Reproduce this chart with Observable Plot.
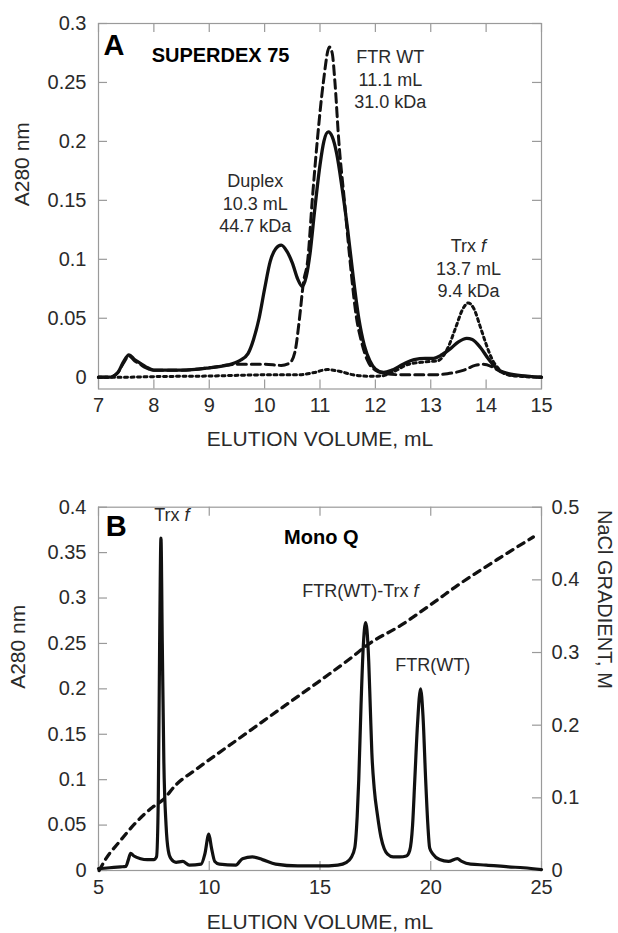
<!DOCTYPE html>
<html>
<head>
<meta charset="utf-8">
<script src="https://cdn.jsdelivr.net/npm/d3@7"></script>
<script src="https://cdn.jsdelivr.net/npm/@observablehq/plot@0.6"></script>
<style>
  html, body { margin: 0; padding: 0; background: #fff; }
  #chart svg { display: block; }
</style>
</head>
<body>
<div id="chart"></div>
<script>
// ---------- Panel A : Superdex 75 ----------
const aXTicks = [7, 8, 9, 10, 11, 12, 13, 14, 15];
const aYTicks = [0, 0.05, 0.1, 0.15, 0.2, 0.25, 0.3];

// Duplex (solid)
const aDuplexX = [7.0, 7.2, 7.35, 7.45, 7.55, 7.65, 7.75, 7.85, 8.0, 8.5, 9.0, 9.3, 9.55, 9.7, 9.8, 9.9, 10.0, 10.1, 10.2, 10.3, 10.4, 10.5, 10.6, 10.68, 10.75, 10.82, 10.9, 11.0, 11.07, 11.15, 11.22, 11.3, 11.4, 11.5, 11.6, 11.7, 11.8, 11.9, 12.0, 12.15, 12.3, 12.5, 12.7, 12.9, 13.05, 13.2, 13.35, 13.5, 13.65, 13.75, 13.9, 14.05, 14.2, 14.4, 14.7, 15.0];
const aDuplexY = [0, 0, 0.004, 0.013, 0.019, 0.015, 0.012, 0.009, 0.006, 0.006, 0.008, 0.010, 0.014, 0.02, 0.032, 0.05, 0.075, 0.098, 0.109, 0.112, 0.107, 0.097, 0.083, 0.077, 0.085, 0.105, 0.14, 0.18, 0.2, 0.208, 0.204, 0.19, 0.16, 0.125, 0.085, 0.05, 0.027, 0.014, 0.007, 0.004, 0.006, 0.011, 0.015, 0.016, 0.016, 0.019, 0.024, 0.03, 0.033, 0.032, 0.025, 0.015, 0.007, 0.003, 0.001, 0];

// FTR WT (dashed)
const aFtrX = [7.0, 7.2, 7.35, 7.45, 7.55, 7.65, 7.75, 7.85, 8.0, 8.5, 9.0, 9.5, 10.0, 10.3, 10.45, 10.55, 10.63, 10.7, 10.78, 10.86, 10.95, 11.06, 11.17, 11.22, 11.27, 11.34, 11.44, 11.54, 11.66, 11.75, 11.85, 12.0, 12.2, 12.5, 13.0, 13.3, 13.6, 13.8, 13.95, 14.1, 14.25, 14.4, 14.7, 15.0];
const aFtrY = [0, 0, 0.004, 0.012, 0.018, 0.014, 0.011, 0.008, 0.006, 0.006, 0.008, 0.011, 0.011, 0.010, 0.012, 0.022, 0.05, 0.08, 0.1, 0.15, 0.2, 0.25, 0.28, 0.275, 0.25, 0.2, 0.15, 0.1, 0.05, 0.03, 0.015, 0.006, 0.003, 0.002, 0.002, 0.003, 0.006, 0.01, 0.011, 0.009, 0.005, 0.002, 0.001, 0];

// Trx f (dotted)
const aTrxX = [7.0, 7.5, 8.0, 9.0, 10.0, 10.6, 10.9, 11.13, 11.35, 11.6, 11.9, 12.1, 12.3, 12.6, 12.9, 13.13, 13.31, 13.45, 13.58, 13.68, 13.78, 13.9, 14.0, 14.1, 14.25, 14.4, 14.7, 15.0];
const aTrxY = [0, 0, 0.0005, 0.001, 0.002, 0.002, 0.004, 0.0065, 0.005, 0.002, 0.0008, 0.001, 0.004, 0.011, 0.013, 0.014, 0.025, 0.042, 0.058, 0.063, 0.058, 0.042, 0.028, 0.016, 0.006, 0.002, 0.0005, 0];

const aNotes = ["FTR WT\n11.1 mL\n31.0 kDa", "Duplex\n10.3 mL\n44.7 kDa", "Trx f\n13.7 mL\n9.4 kDa"];
const aNoteX = [12.27, 9.83, 13.68];
const aNoteY = [0.2532, 0.148, 0.093];

// ---------- Panel B : Mono Q ----------
const bXTicks = [5, 10, 15, 20, 25];
const bYTicks = [0, 0.05, 0.1, 0.15, 0.2, 0.25, 0.3, 0.35, 0.4];
const bRightTicks = [0, 0.1, 0.2, 0.3, 0.4, 0.5];

const bA280X = [5.0, 5.5, 6.0, 6.23, 6.35, 6.45, 6.6, 6.9, 7.2, 7.5, 7.62, 7.7, 7.76, 7.82, 7.88, 7.95, 8.05, 8.15, 8.27, 8.5, 8.8, 9.1, 9.63, 9.8, 9.98, 10.1, 10.25, 10.46, 11.2, 11.5, 11.95, 12.4, 13.0, 14.0, 15.0, 15.8, 16.2, 16.4, 16.57, 16.68, 16.75, 16.85, 16.95, 17.06, 17.12, 17.2, 17.27, 17.34, 17.45, 17.6, 17.75, 17.9, 18.05, 18.3, 18.6, 18.9, 19.05, 19.18, 19.28, 19.4, 19.54, 19.65, 19.77, 19.87, 19.95, 20.1, 20.4, 20.8, 21.2, 21.4, 21.8, 22.5, 23.5, 24.2, 25.0];
const bA280Y = [0.002, 0.003, 0.004, 0.0045, 0.012, 0.019, 0.016, 0.013, 0.012, 0.012, 0.015, 0.08, 0.25, 0.366, 0.25, 0.12, 0.05, 0.022, 0.013, 0.009, 0.01, 0.006, 0.007, 0.018, 0.04, 0.025, 0.01, 0.007, 0.006, 0.013, 0.015, 0.012, 0.007, 0.005, 0.005, 0.006, 0.009, 0.014, 0.025, 0.06, 0.1, 0.18, 0.245, 0.273, 0.265, 0.23, 0.18, 0.13, 0.09, 0.06, 0.037, 0.024, 0.018, 0.015, 0.015, 0.016, 0.022, 0.05, 0.1, 0.16, 0.2, 0.17, 0.1, 0.05, 0.025, 0.018, 0.012, 0.01, 0.013, 0.01, 0.007, 0.006, 0.004, 0.003, 0.001];

// NaCl gradient (M, right axis)
const bNaClX = [5.03, 5.33, 5.93, 6.69, 7.44, 7.9, 8.5, 9.4, 10.3, 11.36, 12.5, 13.7, 14.9, 16.42, 17.17, 18.68, 20.19, 21.24, 23.0, 24.63];
const bNaClY = [0, 0.016, 0.039, 0.066, 0.087, 0.097, 0.118, 0.139, 0.159, 0.182, 0.207, 0.233, 0.259, 0.293, 0.311, 0.338, 0.37, 0.393, 0.428, 0.459];

const bNotes = ["Trx f", "FTR(WT)-Trx f", "FTR(WT)"];
const bNoteX = [8.31, 16.82, 20.09];
const bNoteY = [0.391, 0.307, 0.226];

// ---------- helpers ----------
const FONT = "'Liberation Sans', Arial, Helvetica, sans-serif";
const pts = (xs, ys) => xs.map((x, i) => ({x, y: ys[i]}));
const notes = (ts, xs, ys) => ts.map((t, i) => ({t, x: xs[i], y: ys[i]}));
const GREY = "#9a9a9a";
const INK = "#111";
const TXT = "#2a2a2a";
const TICK = 9;

function italicF(svg) {
  const list = Array.from(svg.querySelectorAll("text, tspan"));
  list.forEach(el => {
    if (el.children.length === 0 && /Trx f$/.test(el.textContent)) {
      const t = el.textContent.slice(0, -1);
      el.textContent = t;
      const ts = document.createElementNS("http://www.w3.org/2000/svg", "tspan");
      ts.setAttribute("font-style", "italic");
      ts.textContent = "f";
      el.appendChild(ts);
    }
  });
}

const W = 618;

// ---------- Plot A ----------
const aH = 460, aMT = 23, aMB = 71.5, aML = 98, aMR = 77;
const aPH = aH - aMT - aMB, aPW = W - aML - aMR;
const plotA = Plot.plot({
  width: W, height: aH,
  marginTop: aMT, marginBottom: aMB, marginLeft: aML, marginRight: aMR,
  style: {fontFamily: FONT, fontSize: "20px", color: TXT, background: "#fff", overflow: "visible"},
  x: {domain: [7, 15]},
  y: {domain: [-0.01, 0.3]},
  marks: [
    Plot.frame({stroke: GREY, strokeWidth: 1.2}),
    Plot.tickX(aXTicks, {x: d => d, insetTop: aPH - TICK, stroke: GREY, strokeWidth: 1.2}),
    Plot.tickX(aXTicks, {x: d => d, insetBottom: aPH - TICK, stroke: GREY, strokeWidth: 1.2}),
    Plot.tickY(aYTicks, {y: d => d, insetRight: aPW - TICK, stroke: GREY, strokeWidth: 1.2}),
    Plot.tickY(aYTicks, {y: d => d, insetLeft: aPW - TICK, stroke: GREY, strokeWidth: 1.2}),
    Plot.axisX({ticks: aXTicks, tickSize: 0, tickPadding: 9, label: null, tickFormat: d => String(d), fill: TXT}),
    Plot.axisY({ticks: aYTicks, tickSize: 0, tickPadding: 12, label: null, tickFormat: d => String(d), fill: TXT}),
    Plot.text(["ELUTION VOLUME, mL"], {text: d => d, frameAnchor: "bottom", dy: 50.5, fontSize: 21, lineAnchor: "middle", fill: TXT}),
    Plot.text(["A280 nm"], {text: d => d, frameAnchor: "left", dx: -76, rotate: -90, fontSize: 21, lineAnchor: "middle", fill: TXT}),
    Plot.line(pts(aTrxX, aTrxY), {x: "x", y: "y", curve: "monotone-x", stroke: INK, strokeWidth: 3, strokeDasharray: "3,3.5"}),
    Plot.line(pts(aFtrX, aFtrY), {x: "x", y: "y", curve: "monotone-x", stroke: INK, strokeWidth: 3, strokeDasharray: "9,5"}),
    Plot.line(pts(aDuplexX, aDuplexY), {x: "x", y: "y", curve: "monotone-x", stroke: INK, strokeWidth: 3.3}),
    Plot.text(notes(aNotes, aNoteX, aNoteY), {x: "x", y: "y", text: "t", fontSize: 18, lineHeight: 1.25, lineAnchor: "middle", textAnchor: "middle", fill: TXT}),
    Plot.text(["A"], {text: d => d, x: 7.09, y: 0.281, textAnchor: "start", lineAnchor: "middle", fontSize: 29, fontWeight: "bold", fill: "#000"}),
    Plot.text(["SUPERDEX 75"], {text: d => d, x: 7.96, y: 0.273, textAnchor: "start", lineAnchor: "middle", fontSize: 20, fontWeight: "bold", fill: "#000"})
  ]
});
italicF(plotA);

// ---------- Plot B ----------
const bH = 473, bMT = 46.7, bMB = 63, bML = 98, bMR = 77;
const bPH = bH - bMT - bMB, bPW = W - bML - bMR;
const K = 0.4 / 0.5; // right axis (0–0.5 M) mapped onto left axis (0–0.4)
const fmtR = d => { const v = d / K; return v === 0 ? "0" : v.toFixed(1); };
const plotB = Plot.plot({
  width: W, height: bH,
  marginTop: bMT, marginBottom: bMB, marginLeft: bML, marginRight: bMR,
  style: {fontFamily: FONT, fontSize: "20px", color: TXT, background: "#fff", overflow: "visible"},
  x: {domain: [5, 25]},
  y: {domain: [0, 0.4]},
  marks: [
    Plot.frame({stroke: GREY, strokeWidth: 1.2}),
    Plot.tickX(bXTicks, {x: d => d, insetTop: bPH - TICK, stroke: GREY, strokeWidth: 1.2}),
    Plot.tickX(bXTicks, {x: d => d, insetBottom: bPH - TICK, stroke: GREY, strokeWidth: 1.2}),
    Plot.tickY(bYTicks, {y: d => d, insetRight: bPW - TICK, stroke: GREY, strokeWidth: 1.2}),
    Plot.tickY(bRightTicks.map(v => v * K), {y: d => d, insetLeft: bPW - TICK, stroke: GREY, strokeWidth: 1.2}),
    Plot.axisX({ticks: bXTicks, tickSize: 0, tickPadding: 9, label: null, tickFormat: d => String(d), fill: TXT}),
    Plot.axisY({ticks: bYTicks, tickSize: 0, tickPadding: 12, label: null, tickFormat: d => String(d), fill: TXT}),
    Plot.axisY({anchor: "right", ticks: bRightTicks.map(v => v * K), tickSize: 0, tickPadding: 10, label: null, tickFormat: fmtR, fill: TXT}),
    Plot.text(["ELUTION VOLUME, mL"], {text: d => d, frameAnchor: "bottom", dy: 51.7, fontSize: 21, lineAnchor: "middle", fill: TXT}),
    Plot.text(["A280 nm"], {text: d => d, frameAnchor: "left", dx: -80, rotate: -90, fontSize: 21, lineAnchor: "middle", fill: TXT}),
    Plot.text(["NaCl GRADIENT, M"], {text: d => d, frameAnchor: "right", dx: 63, rotate: 90, fontSize: 20, lineAnchor: "middle", fill: TXT}),
    Plot.line(pts(bNaClX, bNaClY), {x: "x", y: d => d.y * K, curve: "monotone-x", stroke: INK, strokeWidth: 3.3, strokeDasharray: "7,6"}),
    Plot.line(pts(bA280X, bA280Y), {x: "x", y: "y", curve: "monotone-x", stroke: INK, strokeWidth: 3.2}),
    Plot.text(notes(bNotes, bNoteX, bNoteY), {x: "x", y: "y", text: "t", fontSize: 18, lineAnchor: "middle", textAnchor: "middle", fill: TXT}),
    Plot.text(["B"], {text: d => d, x: 5.33, y: 0.378, textAnchor: "start", lineAnchor: "middle", fontSize: 29, fontWeight: "bold", fill: "#000"}),
    Plot.text(["Mono Q"], {text: d => d, x: 15.06, y: 0.366, textAnchor: "middle", lineAnchor: "middle", fontSize: 20, fontWeight: "bold", fill: "#000"})
  ]
});
italicF(plotB);

const chart = document.getElementById("chart");
chart.appendChild(plotA);
chart.appendChild(plotB);
</script>
</body>
</html>
